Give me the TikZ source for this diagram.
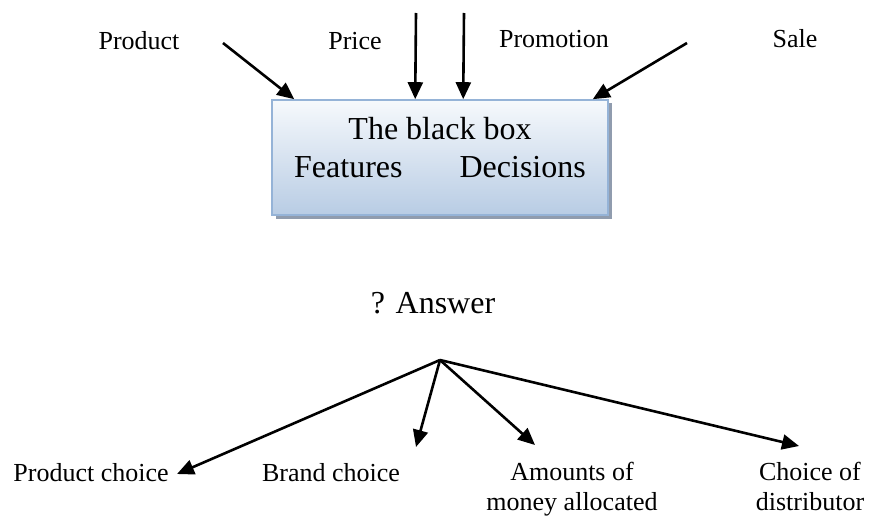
\documentclass[tikz,border=0pt]{standalone}
\usepackage{fontspec}
\setmainfont{Liberation Serif}
\usetikzlibrary{arrows.meta, positioning, shadows}
\usepackage{xcolor}
\definecolor{boxtop}{HTML}{F6F9FC}
\definecolor{boxbottom}{HTML}{B8CCE4}
\definecolor{boxedge}{HTML}{95B3D7}
\definecolor{boxshade}{HTML}{909CAE}

\begin{document}
\begin{tikzpicture}[x=1pt, y=-1pt,
  lbl/.style={font=\fontsize{26}{30}\selectfont, inner sep=0pt, align=center},
  big/.style={font=\fontsize{32}{38}\selectfont, inner sep=0pt, align=center},
  pointer/.style={-{Triangle[length=17pt, width=15pt]}, line width=2.6pt}]
  \useasboundingbox (0,0) rectangle (869,516);

  % inputs
  \node[lbl] (product)   at (139,41) {Product};
  \node[lbl] (price)     at (355,41) {Price};
  \node[lbl] (promotion) at (554,39) {Promotion};
  \node[lbl] (sale)      at (795,39) {Sale};

  % the black box
  \node[big, draw=boxedge, line width=1.6pt,
        top color=boxtop, bottom color=boxbottom,
        drop shadow={shadow xshift=3.5pt, shadow yshift=-3.5pt,
                     fill=boxshade, opacity=1},
        minimum width=336pt, minimum height=115pt, text depth=20pt]
    (box) at (440,157.5)
    {The black box\\Features\hspace{57pt}Decisions};

  \coordinate (in1) at (223,43);
  \coordinate (in2) at (416,13);
  \coordinate (in3) at (464,13);
  \coordinate (in4) at (687,43);
  \draw[pointer] (in1) -- ([xshift=23pt]box.north west);
  \draw[pointer] (in2) -- ([xshift=144pt]box.north west);
  \draw[pointer] (in3) -- ([xshift=192pt]box.north west);
  \draw[pointer] (in4) -- ([xshift=-16pt]box.north east);

  % answer
  \node[big] (answer) at (433,303) {? Answer};

  \node[lbl] (pchoice) at (91,473)  {Product choice};
  \node[lbl] (bchoice) at (331,473) {Brand choice};
  \node[lbl] (money)   at (572,489) {Amounts of\\money allocated};
  \node[lbl] (distrib) at (810,486) {Choice of\\distributor};

  \coordinate (root) at (440,360);
  \coordinate (out1) at (177,474);
  \coordinate (out2) at (416,447);
  \coordinate (out3) at (535,445);
  \coordinate (out4) at (799,446);
  \foreach \t in {out1,out2,out3,out4}
    \draw[pointer] (root) -- (\t);
\end{tikzpicture}
\end{document}
